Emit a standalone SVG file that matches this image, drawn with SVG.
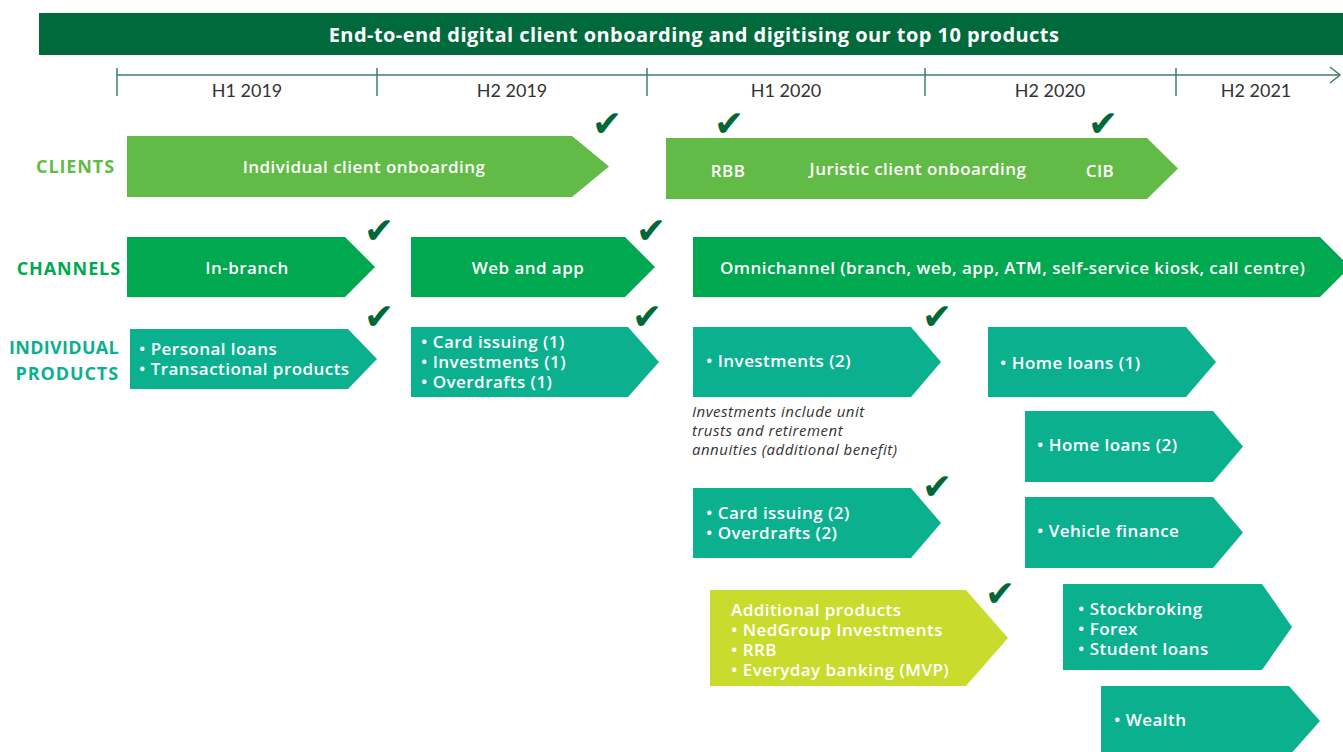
<svg xmlns="http://www.w3.org/2000/svg" width="1343" height="752" viewBox="0 0 1343 752">
  <defs>
    <style>
      .t { font-family: "Open Sans", Lato, "Liberation Sans", sans-serif; }
      .head { fill: #ffffff; font-size: 20px; font-weight: bold; letter-spacing: 0.45px; }
      .period { fill: #333333; font-size: 18px; font-family: Lato, "Open Sans", sans-serif; }
      .box { fill: #ffffff; font-size: 17px; font-weight: 600; letter-spacing: 0.45px; }
      .rowlbl { font-size: 18px; font-weight: bold; letter-spacing: 0.9px; }
      .rowlbl.tight { letter-spacing: 0.3px; }
      .note { fill: #333333; font-size: 15px; font-style: italic; letter-spacing: 0.5px; }
      .chk { fill: #006838; font-family: "DejaVu Sans", sans-serif; font-size: 36px; }
      .c-client { fill: #62bb46; }
      .c-chan { fill: #00a84f; }
      .c-prod { fill: #0bb08f; }
      .c-extra { fill: #c9dc2e; }
      .axis { stroke: #3d8060; stroke-width: 1.5; fill: none; }
    </style>
  </defs>

  <rect width="1343" height="752" fill="#ffffff"/>

  <!-- title banner -->
  <g id="banner">
    <rect x="39" y="13" width="1304" height="42" fill="#006a3d"/>
    <text class="t head" x="694" y="42" text-anchor="middle">End-to-end digital client onboarding and digitising our top 10 products</text>
  </g>

  <!-- timeline axis -->
  <g id="timeline">
    <line class="axis" x1="117" y1="75" x2="1340" y2="75"/>
    <polyline class="axis" points="1330,67 1340,75 1330,83"/>
    <line class="axis" x1="117" y1="68" x2="117" y2="96"/>
    <line class="axis" x1="377" y1="68" x2="377" y2="96"/>
    <line class="axis" x1="647" y1="68" x2="647" y2="96"/>
    <line class="axis" x1="925" y1="68" x2="925" y2="96"/>
    <line class="axis" x1="1176" y1="68" x2="1176" y2="96"/>
    <text class="period" x="247" y="97" text-anchor="middle">H1 2019</text>
    <text class="period" x="512" y="97" text-anchor="middle">H2 2019</text>
    <text class="period" x="786" y="97" text-anchor="middle">H1 2020</text>
    <text class="period" x="1050" y="97" text-anchor="middle">H2 2020</text>
    <text class="period" x="1256" y="97" text-anchor="middle">H2 2021</text>
  </g>

  <!-- row labels -->
  <g id="row-labels">
    <text class="t rowlbl c-client" x="115" y="173" text-anchor="end">CLIENTS</text>
    <text class="t rowlbl c-chan" x="121" y="275" text-anchor="end">CHANNELS</text>
    <text class="t rowlbl tight c-prod" x="119" y="354" text-anchor="end">INDIVIDUAL</text>
    <text class="t rowlbl c-prod" x="119" y="380" text-anchor="end">PRODUCTS</text>
  </g>

  <!-- clients -->
  <g id="individual-onboarding">
    <polygon class="c-client" points="127,136 572,136 609,166.5 572,197 127,197"/>
    <text class="t box" x="364" y="173" text-anchor="middle">Individual client onboarding</text>
  </g>
  <g id="juristic-onboarding">
    <polygon class="c-client" points="666,138 1147,138 1178,168.5 1147,199 666,199"/>
    <text class="t box" x="728" y="177" text-anchor="middle" font-weight="bold">RBB</text>
    <text class="t box" x="918" y="175" text-anchor="middle">Juristic client onboarding</text>
    <text class="t box" x="1100" y="177" text-anchor="middle" font-weight="bold">CIB</text>
  </g>

  <!-- channels -->
  <g id="in-branch">
    <polygon class="c-chan" points="127,237 345,237 375,267 345,297 127,297"/>
    <text class="t box" x="247" y="274" text-anchor="middle">In-branch</text>
  </g>
  <g id="web-app">
    <polygon class="c-chan" points="411,237 625,237 655,267 625,297 411,297"/>
    <text class="t box" x="528" y="274" text-anchor="middle">Web and app</text>
  </g>
  <g id="omnichannel">
    <polygon class="c-chan" points="693,237 1320,237 1350,267 1320,297 693,297"/>
    <text class="t box" x="720" y="274">Omnichannel (branch, web, app, ATM, self-service kiosk,  call centre)</text>
  </g>

  <!-- products -->
  <g id="personal-loans">
    <polygon class="c-prod" points="130,329 348,329 377,359 348,389 130,389"/>
    <text class="t box" x="139" y="355">• Personal loans</text>
    <text class="t box" x="139" y="375">• Transactional products</text>
  </g>
  <g id="card-issuing-1">
    <polygon class="c-prod" points="411,327 628,327 659,362 628,397 411,397"/>
    <text class="t box" x="421" y="348">• Card issuing (1)</text>
    <text class="t box" x="421" y="368">• Investments (1)</text>
    <text class="t box" x="421" y="388">• Overdrafts (1)</text>
  </g>
  <g id="investments-2">
    <polygon class="c-prod" points="693,327 911,327 941,362 911,397 693,397"/>
    <text class="t box" x="706" y="367">• Investments (2)</text>
  </g>
  <g id="investments-note">
    <text class="t note" x="692" y="417">Investments include unit</text>
    <text class="t note" x="692" y="436">trusts and retirement</text>
    <text class="t note" x="692" y="455">annuities (additional benefit)</text>
  </g>
  <g id="home-loans-1">
    <polygon class="c-prod" points="988,327 1186,327 1216,362 1186,397 988,397"/>
    <text class="t box" x="1000" y="369">• Home loans (1)</text>
  </g>
  <g id="home-loans-2">
    <polygon class="c-prod" points="1025,411 1213,411 1243,446.5 1213,482 1025,482"/>
    <text class="t box" x="1037" y="451">• Home loans (2)</text>
  </g>
  <g id="card-issuing-2">
    <polygon class="c-prod" points="693,488 911,488 941,523 911,558 693,558"/>
    <text class="t box" x="706" y="519">• Card issuing (2)</text>
    <text class="t box" x="706" y="539">• Overdrafts (2)</text>
  </g>
  <g id="vehicle-finance">
    <polygon class="c-prod" points="1025,497 1213,497 1243,532.5 1213,568 1025,568"/>
    <text class="t box" x="1037" y="537">• Vehicle finance</text>
  </g>
  <g id="additional-products">
    <polygon class="c-extra" points="710,590 966,590 1008,638 966,686 710,686"/>
    <text class="t box" x="731" y="616">Additional products</text>
    <text class="t box" x="731" y="636">• NedGroup Investments</text>
    <text class="t box" x="731" y="656">• RRB</text>
    <text class="t box" x="731" y="676">• Everyday banking (MVP)</text>
  </g>
  <g id="stockbroking">
    <polygon class="c-prod" points="1063,584 1262,584 1292,627 1262,670 1063,670"/>
    <text class="t box" x="1078" y="615">• Stockbroking</text>
    <text class="t box" x="1078" y="635">• Forex</text>
    <text class="t box" x="1078" y="655">• Student loans</text>
  </g>
  <g id="wealth">
    <polygon class="c-prod" points="1101,686 1289,686 1320,721 1289,756 1101,756"/>
    <text class="t box" x="1114" y="726">• Wealth</text>
  </g>

  <!-- completion ticks -->
  <g id="ticks">
    <text class="chk" x="607" y="136" text-anchor="middle">✔</text>
    <text class="chk" x="729" y="136" text-anchor="middle">✔</text>
    <text class="chk" x="1103" y="136" text-anchor="middle">✔</text>
    <text class="chk" x="379" y="243" text-anchor="middle">✔</text>
    <text class="chk" x="651" y="243" text-anchor="middle">✔</text>
    <text class="chk" x="379" y="329" text-anchor="middle">✔</text>
    <text class="chk" x="647" y="329" text-anchor="middle">✔</text>
    <text class="chk" x="937" y="329" text-anchor="middle">✔</text>
    <text class="chk" x="937" y="499" text-anchor="middle">✔</text>
    <text class="chk" x="1000" y="606" text-anchor="middle">✔</text>
  </g>
</svg>
